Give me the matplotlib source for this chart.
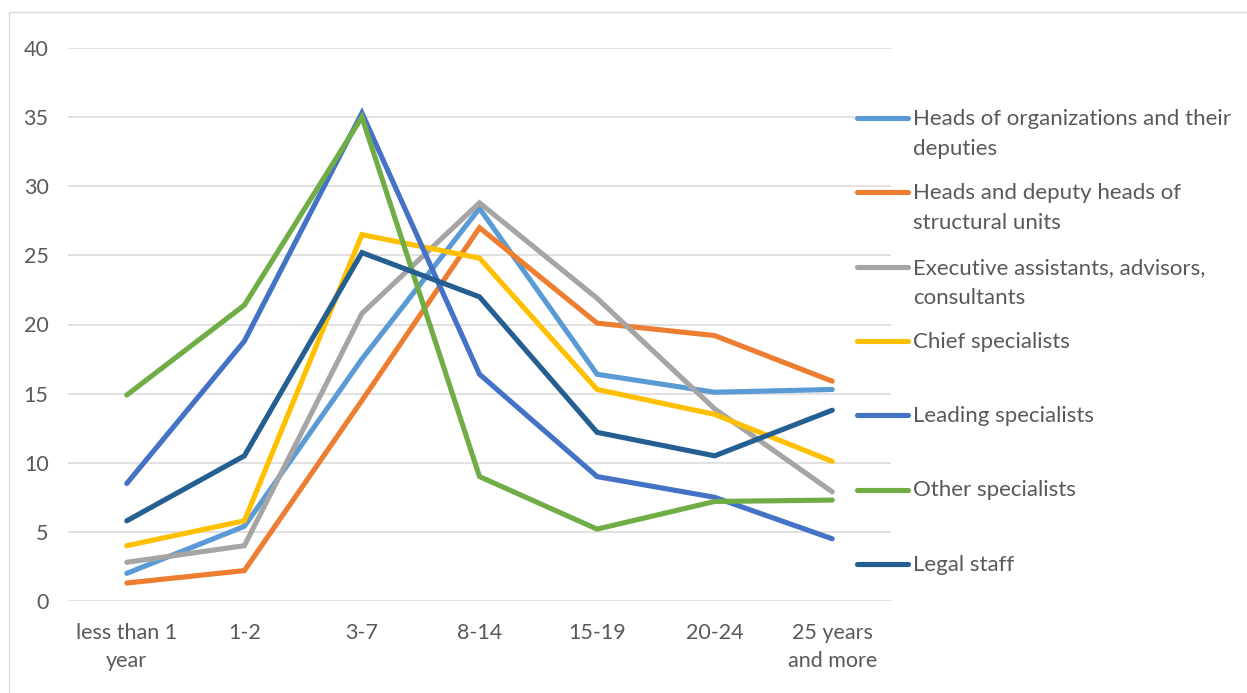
import matplotlib.pyplot as plt
from matplotlib.lines import Line2D
from matplotlib.patches import Rectangle

plt.rcParams['font.family'] = ['Lato', 'DejaVu Sans']

categories = ['less than 1\nyear', '1-2', '3-7', '8-14', '15-19', '20-24', '25 years\nand more']

heads_org = [2.0, 5.4, 17.5, 28.4, 16.4, 15.1, 15.3]
heads_units = [1.3, 2.2, 14.5, 27.0, 20.1, 19.2, 15.9]
exec_assist = [2.8, 4.0, 20.8, 28.8, 21.9, 13.9, 7.9]
chief_spec = [4.0, 5.8, 26.5, 24.8, 15.3, 13.5, 10.1]
leading_spec = [8.5, 18.8, 35.3, 16.4, 9.0, 7.5, 4.5]
other_spec = [14.9, 21.4, 35.0, 9.0, 5.2, 7.2, 7.3]
legal_staff = [5.8, 10.5, 25.2, 22.0, 12.2, 10.5, 13.8]

series = [
    ('Heads of organizations and their\ndeputies', heads_org, '#5B9BD5'),
    ('Heads and deputy heads of\nstructural units', heads_units, '#ED7D31'),
    ('Executive assistants, advisors,\nconsultants', exec_assist, '#A5A5A5'),
    ('Chief specialists', chief_spec, '#FFC000'),
    ('Leading specialists', leading_spec, '#4472C4'),
    ('Other specialists', other_spec, '#70AD47'),
    ('Legal staff', legal_staff, '#255E91'),
]

W, H = 1247, 693
fig = plt.figure(figsize=(W / 100, H / 100), dpi=100)

# axes box in pixel coords
left, right, top, bottom = 68, 891, 48, 601
ax = fig.add_axes([left / W, 1 - bottom / H, (right - left) / W, (bottom - top) / H])

x = list(range(len(categories)))
for name, vals, col in series:
    ax.plot(x, vals, color=col, lw=3.7, solid_capstyle='round', solid_joinstyle='miter')

ax.set_xlim(-0.5, 6.5)
ax.set_ylim(0, 40)
ax.set_yticks(range(0, 41, 5))
ax.set_xticks(x)
ax.set_xticklabels(categories, linespacing=1.5)
ax.grid(axis='y', color='#D9D9D9', lw=1.1)
ax.set_axisbelow(True)
for s in ax.spines.values():
    s.set_visible(False)
ax.tick_params(length=0, colors='#595959', labelsize=15.5)
ax.tick_params(axis='y', pad=14)
ax.tick_params(axis='x', pad=16)

# chart border
fig.add_artist(Rectangle((9 / W, -0.1), 1.2, 1 - 12 / H + 0.1, transform=fig.transFigure,
                         fill=False, edgecolor='#D9D9D9', lw=1.0))

# legend drawn by hand to match layout
y0, dy = 118, 74.3
for i, (name, vals, col) in enumerate(series):
    yy = 1 - (y0 + i * dy) / H
    fig.add_artist(Line2D([857 / W, 908 / W], [yy, yy], transform=fig.transFigure,
                          color=col, lw=3.7, solid_capstyle='round'))
    fig.text(913 / W, yy + 9 / H, name, color='#595959', fontsize=16,
             va='top', ha='left', linespacing=1.62)

fig.savefig('out.png', dpi=100)
